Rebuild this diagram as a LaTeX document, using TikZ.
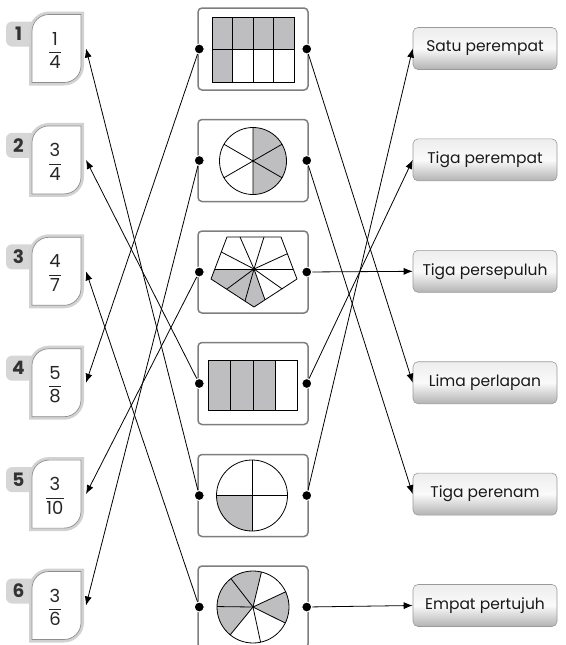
\documentclass[tikz,border=0pt]{standalone}
\usepackage{amsmath}
\usepackage{fontspec}
\setmainfont{Poppins}
\usetikzlibrary{arrows.meta,calc}
\definecolor{pgrey}{HTML}{BEBEC0}
\definecolor{bandc}{HTML}{D2D2D2}
\definecolor{linec}{HTML}{8E8E8E}
\definecolor{tabc}{HTML}{D6D6D6}
\definecolor{framec}{HTML}{7E7E7E}
\definecolor{lblline}{HTML}{9A9A9A}
\newcommand\mycard[5]{%
\begin{scope}[shift={(0,#2)}]
\fill[tabc, rounded corners=6pt] (6,-27) rectangle (42,-2);
\node[font=\bfseries\fontsize{18.5}{20}\selectfont, text=black!80] at (18.5,-14.5) {#3};
\fill[bandc] (29,37) -- (29,-17) .. controls (29,-28) and (38,-37) .. (49,-37) -- (84,-37) -- (84,17) .. controls (84,28) and (75,37) .. (64,37) -- cycle;
\filldraw[fill=white, draw=linec, line width=0.7pt] (32,34) -- (32,-17) .. controls (32,-26.5) and (39.5,-34) .. (49,-34) -- (81,-34) -- (81,17) .. controls (81,26.5) and (73.5,34) .. (64,34) -- cycle;
\node[font=\fontsize{18}{20}\selectfont, text=black!85] at (55,2) {$\dfrac{\text{#4}}{\text{#5}}$};
\coordinate (#1) at (86,0);
\end{scope}}
\begin{document}
\begin{tikzpicture}[x=1pt,y=-1pt,
  conn/.style={line width=0.8pt, -{Latex[length=9pt,width=7pt]}},
  dotn/.style={circle, fill=black, draw=white, line width=1pt, inner sep=0pt, minimum size=10pt},
  mbox/.style={draw=framec, line width=1.5pt, rounded corners=4pt, fill=white, minimum width=110pt, minimum height=82pt, inner sep=0pt},
  lbl/.style={draw=lblline, line width=0.6pt, rounded corners=5pt, top color=gray!14, bottom color=gray!60, middle color=gray!4, minimum width=144pt, minimum height=42pt, font=\fontsize{15.5}{18}\selectfont, text=black!90},
  part/.style={draw=black, line width=0.8pt},
]
\useasboundingbox (0,0) rectangle (565,645);
\clip (0,0) rectangle (565,645);
% left cards
\mycard{ca1}{48.5}{1}{1}{4}
\mycard{ca2}{159.9}{2}{3}{4}
\mycard{ca3}{271.3}{3}{4}{7}
\mycard{ca4}{382.7}{4}{5}{8}
\mycard{ca5}{494.1}{5}{3}{10}
\mycard{ca6}{605.5}{6}{3}{6}
% middle boxes
\node[mbox] (m1) at (253,49) {};
\node[mbox] (m2) at (253,160.5) {};
\node[mbox] (m3) at (253,272) {};
\node[mbox] (m4) at (253,383.5) {};
\node[mbox] (m5) at (253,495.5) {};
\node[mbox] (m6) at (253,607) {};
% box 1: 5/8 grid
\begin{scope}[shift={(m1.center)}]
\fill[pgrey] (-41,-32) rectangle (41,0.5);
\fill[pgrey] (-41,0.5) rectangle (-20.5,33);
\draw[part] (-41,-32) rectangle (41,33) (-41,0.5) -- (41,0.5) (-20.5,-32) -- (-20.5,33) (0,-32) -- (0,33) (20.5,-32) -- (20.5,33);
\end{scope}
% box 2: 3/6 circle
\begin{scope}[shift={(m2.center)}, shift={(0,0.5)}, yscale=-1]
\begin{scope}\clip (0,0) circle[radius=33.5]; \fill[pgrey] (0,-40) rectangle (40,40); \end{scope}
\draw[part] (0,0) circle[radius=33.5];
\draw[part] (90:33.5) -- (270:33.5) (30:33.5) -- (210:33.5) (150:33.5) -- (330:33.5);
\end{scope}
% box 3: 3/10 pentagon
\begin{scope}[shift={(m3.center)}, shift={(1,0)}]
\fill[pgrey] (0,-3) -- (-39.2,-3) -- (-43,7) -- (0,35) -- (11,27.8) -- cycle;
\draw[part] (-27,-35) -- (27,-35) -- (43,7) -- (0,35) -- (-43,7) -- cycle;
\draw[part] (-39.2,-3) -- (39.2,-3);
\foreach \p in {(-27.3,17.2),(-9,29.1),(11,27.8),(28,16.8),(33.4,-18.3),(10,-35),(-14,-35),(-32.7,-20)}
  \draw[part] (0,-3) -- \p;
\end{scope}
% box 4: 3/4 rectangle
\begin{scope}[shift={(m4.center)}]
\fill[pgrey] (-44.5,-23.5) rectangle (22.25,27);
\draw[part] (-44.5,-23.5) rectangle (44.5,27) (-22.25,-23.5) -- (-22.25,27) (0,-23.5) -- (0,27) (22.25,-23.5) -- (22.25,27);
\end{scope}
% box 5: 1/4 circle
\begin{scope}[shift={(m5.center)}, shift={(-1,0)}]
\begin{scope}\clip (0,0) circle[radius=35.5]; \fill[pgrey] (-40,0) rectangle (0,40); \end{scope}
\draw[part] (0,0) circle[radius=35.5];
\draw[part] (0,-35.5) -- (0,35.5) (-35.5,0) -- (35.5,0);
\end{scope}
% box 6: 4/7 circle
\begin{scope}[shift={(m6.center)}, yscale=-1]
\begin{scope}\clip (0,0) circle[radius=36];
\foreach \a in {76.43,127.86,179.29,333.57}
  \fill[pgrey] (0,0) -- (\a:50) -- ({\a+25.71}:50) -- ({\a+51.43}:50) -- cycle;
\end{scope}
\draw[part] (0,0) circle[radius=36];
\foreach \k in {0,...,6} \draw[part] (0,0) -- ({25+51.43*\k}:36);
\end{scope}
% dots
\foreach \i in {1,...,6} {
  \node[dotn] (ml\i) at ($(m\i.west)+(2,0)$) {};
  \node[dotn] (mr\i) at ($(m\i.east)+(-2,0)$) {};
}
% right labels
\node[lbl] (r1) at (485,48.5) {Satu perempat};
\node[lbl] (r2) at (485,159.9) {Tiga perempat};
\node[lbl] (r3) at (485,271.3) {Tiga persepuluh};
\node[lbl] (r4) at (485,382.7) {Lima perlapan};
\node[lbl] (r5) at (485,494.1) {Tiga perenam};
\node[lbl] (r6) at (485,605.5) {Empat pertujuh};
% connectors left
\draw[conn] (ml5) -- (ca1);
\draw[conn] (ml4) -- (ca2);
\draw[conn] (ml6) -- (ca3);
\draw[conn] (ml1) -- (ca4);
\draw[conn] (ml3) -- (ca5);
\draw[conn] (ml2) -- (ca6);
% connectors right
\draw[conn] (mr1) -- (r4.west);
\draw[conn] (mr2) -- (r5.west);
\draw[conn] (mr3) -- (r3.west);
\draw[conn] (mr4) -- (r2.west);
\draw[conn] (mr5) -- (r1.west);
\draw[conn] (mr6) -- (r6.west);
\end{tikzpicture}
\end{document}
